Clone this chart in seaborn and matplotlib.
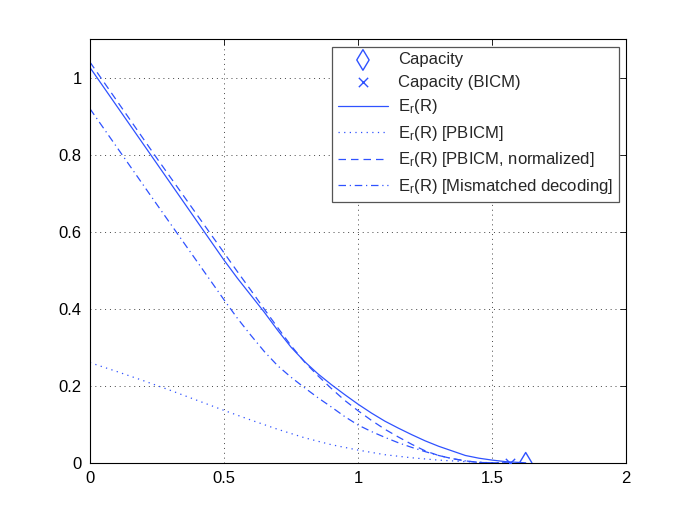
import numpy as np
import pandas as pd
import matplotlib
matplotlib.use('Agg')
import matplotlib.pyplot as plt
import seaborn as sns

# rates and error exponents
R = [0, 0.25, 0.5, 0.55, 0.6, 0.65, 0.7, 0.75, 0.8, 0.85, 0.9, 0.95, 1.0, 1.05, 1.1, 1.15, 1.2,
     1.25, 1.3, 1.35, 1.4, 1.45, 1.5, 1.55, 1.6, 1.625]
er = [1.026, 0.776, 0.526, 0.479, 0.435, 0.391, 0.344, 0.300, 0.263, 0.231, 0.203, 0.177,
      0.152, 0.129, 0.108, 0.090, 0.073, 0.057, 0.043, 0.031, 0.019, 0.012, 0.007, 0.003,
      0.001, 0.0]
er_norm = [1.04, 0.79, 0.545, 0.496, 0.448, 0.399, 0.351, 0.304, 0.262, 0.226, 0.193, 0.162,
           0.135, 0.110, 0.087, 0.067, 0.048, 0.031, 0.019, 0.011, 0.005, 0.001, 0.0, 0.0,
           0.0, 0.0]
er_mism = [0.919, 0.67, 0.423, 0.375, 0.331, 0.289, 0.252, 0.222, 0.195, 0.169, 0.145, 0.120,
           0.098, 0.081, 0.066, 0.052, 0.040, 0.029, 0.019, 0.011, 0.005, 0.001, 0.0, 0.0,
           0.0, 0.0]
R_pb = [0, 0.1, 0.2, 0.3, 0.4, 0.5, 0.6, 0.7, 0.8, 0.9, 1.0, 1.1, 1.2, 1.3, 1.4, 1.5]
er_pb = [0.26, 0.237, 0.213, 0.188, 0.162, 0.136, 0.111, 0.087, 0.065, 0.047, 0.033, 0.021,
         0.013, 0.007, 0.003, 0.0]
cap = 1.625
cap_bicm = 1.565

blue = '#2f52ff'

sns.set_style('white')
plt.rcParams['font.family'] = ['Liberation Sans', 'DejaVu Sans']
plt.rcParams['font.size'] = 12

fig = plt.figure(figsize=(6.92, 5.2), dpi=100)
ax = fig.add_axes([0.13, 0.11, 0.775, 0.815])

sns.scatterplot(x=[cap], y=[0], marker='d', s=110, facecolor='none', edgecolor=blue,
                linewidth=1, ax=ax, label='Capacity', zorder=5)
sns.scatterplot(x=[cap_bicm], y=[0], marker='x', s=45, color=blue, linewidth=1,
                ax=ax, label='Capacity (BICM)', zorder=5)
lab = r'$\mathregular{E_r}$(R)'
sns.lineplot(x=R, y=er, color=blue, lw=0.9, ax=ax, label=lab)
sns.lineplot(x=R_pb, y=er_pb, color=blue, lw=0.9, ls=(0, (1, 3.5)), ax=ax, label=lab + ' [PBICM]')
sns.lineplot(x=R[:-1], y=er_norm[:-1], color=blue, lw=0.9, ls=(0, (6, 4)), ax=ax,
             label=lab + ' [PBICM, normalized]')
sns.lineplot(x=R[:-2], y=er_mism[:-2], color=blue, lw=0.9, ls=(0, (6, 3, 1, 3)), ax=ax,
             label=lab + ' [Mismatched decoding]')

ax.set_xlim(0, 2)
ax.set_ylim(0, 1.1)
ax.set_xticks([0, 0.5, 1, 1.5, 2])
ax.set_xticklabels(['0', '0.5', '1', '1.5', '2'])
ax.set_yticks([0, 0.2, 0.4, 0.6, 0.8, 1])
ax.set_yticklabels(['0', '0.2', '0.4', '0.6', '0.8', '1'])
ax.grid(True, color='#444444', ls=(0, (1, 4)), lw=0.7)
ax.tick_params(direction='in', top=True, right=True, length=4, width=0.6, colors='black',
               labelsize=12, pad=6)
for sp in ax.spines.values():
    sp.set_color('black')
    sp.set_linewidth(0.8)

leg = ax.legend(loc='upper right', borderaxespad=0.45, handlelength=3.0, handletextpad=0.6,
                labelspacing=0.45, fancybox=False, framealpha=1, edgecolor='#555555',
                borderpad=0.35, fontsize=12)
leg.get_frame().set_linewidth(0.9)

fig.savefig('out.png', dpi=100)
